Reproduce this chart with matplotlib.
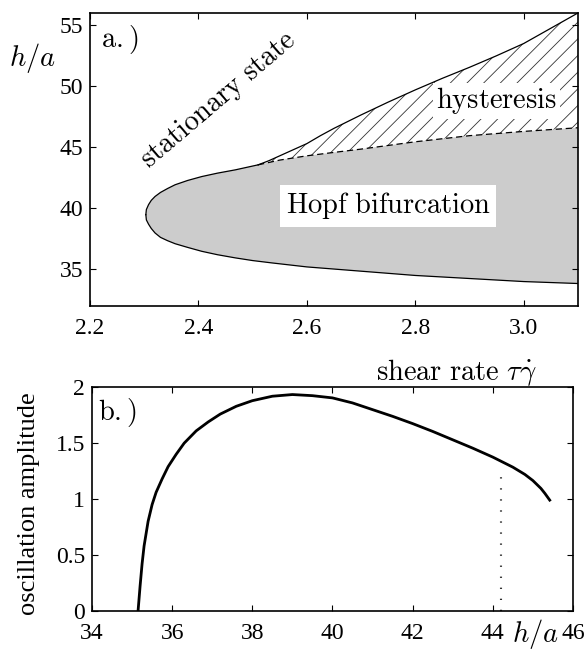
import numpy as np
import matplotlib
matplotlib.use('Agg')
import matplotlib.pyplot as plt

plt.rcParams['mathtext.fontset'] = 'cm'
plt.rcParams['font.family'] = 'Liberation Serif'
plt.rcParams['hatch.linewidth'] = 0.6

# a.) phase diagram, shear rate vs h/a
hopf_lo_x = [3.1, 3.0, 2.9, 2.8, 2.7, 2.6, 2.535, 2.5, 2.468, 2.435, 2.406, 2.38,
             2.357, 2.343, 2.33, 2.32, 2.313, 2.308, 2.304, 2.303]
hopf_lo_y = [33.84, 34.0, 34.25, 34.5, 34.85, 35.2, 35.53, 35.72, 35.94, 36.2, 36.48, 36.8,
             37.1, 37.35, 37.62, 37.98, 38.35, 38.7, 39.05, 39.48]
hopf_up_x = [2.303, 2.304, 2.308, 2.313, 2.32, 2.33, 2.343, 2.357, 2.38, 2.406, 2.435,
             2.468, 2.51]
hopf_up_y = [39.48, 39.9, 40.3, 40.65, 40.97, 41.3, 41.62, 41.93, 42.28, 42.6, 42.88,
             43.15, 43.56]
dash_x = [2.51, 2.55, 2.6, 2.65, 2.7, 2.8, 2.9, 3.0, 3.1]
dash_y = [43.56, 43.95, 44.3, 44.58, 44.85, 45.45, 45.95, 46.3, 46.6]
hyst_x = [2.51, 2.53, 2.55, 2.575, 2.6, 2.625, 2.65, 2.675, 2.7, 2.75, 2.8, 2.85,
          2.9, 2.95, 3.0, 3.05, 3.1]
hyst_y = [43.56, 43.9, 44.3, 44.8, 45.3, 45.95, 46.55, 47.1, 47.65, 48.7, 49.7, 50.65,
          51.55, 52.5, 53.5, 54.75, 56.0]

# b.) oscillation amplitude vs h/a
amp_h = [35.15, 35.2, 35.25, 35.3, 35.4, 35.5, 35.6, 35.75, 35.9, 36.1, 36.3, 36.6,
         36.9, 37.2, 37.6, 38.0, 38.5, 39.0, 39.5, 40.0, 40.5, 41.0, 41.5, 42.0, 42.5,
         43.0, 43.5, 44.0, 44.5, 44.8, 45.0, 45.2, 45.3, 45.36, 45.42]
amp = [0.0, 0.22, 0.42, 0.58, 0.8, 0.95, 1.06, 1.18, 1.29, 1.40, 1.50, 1.61,
       1.69, 1.76, 1.83, 1.88, 1.92, 1.935, 1.925, 1.905, 1.86, 1.80, 1.74, 1.675, 1.605,
       1.53, 1.455, 1.375, 1.285, 1.22, 1.165, 1.095, 1.05, 1.02, 0.99]
h_dot = 44.21
amp_dot = 1.27

fig = plt.figure(figsize=(5.87, 6.52), dpi=100)
ax1 = fig.add_axes([0.1533, 0.5307, 0.8313, 0.4494])
ax2 = fig.add_axes([0.1567, 0.0633, 0.8194, 0.3427])

"""top panel"""
gx = np.concatenate([hopf_lo_x, hopf_up_x, dash_x, [3.1]])
gy = np.concatenate([hopf_lo_y, hopf_up_y, dash_y, [33.84]])
ax1.fill(gx, gy, color='#cccccc', lw=0, zorder=1)
hx = np.concatenate([hyst_x, dash_x[::-1]])
hy = np.concatenate([hyst_y, dash_y[::-1]])
ax1.fill(hx, hy, facecolor='none', edgecolor='#333333', hatch='//', lw=0, zorder=1)
ax1.plot(hopf_lo_x, hopf_lo_y, 'k-', lw=0.9, zorder=3)
ax1.plot(hopf_up_x, hopf_up_y, 'k-', lw=0.9, zorder=3)
ax1.plot(hyst_x, hyst_y, 'k-', lw=0.9, zorder=3)
ax1.plot(dash_x, dash_y, 'k--', lw=0.9, dashes=(5, 3), zorder=3)

ax1.set_xlim(2.2, 3.1)
ax1.set_ylim(32, 56)
ax1.set_xticks([2.2, 2.4, 2.6, 2.8, 3.0])
ax1.set_xticklabels(['2.2', '2.4', '2.6', '2.8', '3.0'])
ax1.set_yticks([35, 40, 45, 50, 55])

ax1.text(2.75, 40.2, r'$\mathrm{Hopf\ bifurcation}$', fontsize=20.5, ha='center', va='center',
         bbox=dict(facecolor='white', edgecolor='none', pad=4), zorder=4)
ax1.text(2.95, 48.8, r'$\mathrm{hysteresis}$', fontsize=20.5, ha='center', va='center',
         bbox=dict(facecolor='white', edgecolor='none', pad=2), zorder=4)
ax1.text(2.437, 48.9, r'$\mathrm{stationary\ state}$', fontsize=20.5, ha='center', va='center',
         rotation=40.5, rotation_mode='anchor', zorder=4)
ax1.text(0.061, 0.908, r'$\mathrm{a.)}$', transform=ax1.transAxes, fontsize=20.5,
         ha='center', va='center')
fig.text(0.056, 0.911, r'$h/a$', fontsize=20.5, ha='center', va='center')
fig.text(0.915, 0.428, r'$\mathrm{shear\ rate}\ \tau\dot{\gamma}$', fontsize=20.5,
         ha='right', va='center')

"""bottom panel"""
ax2.plot(amp_h, amp, 'k-', lw=2)
ax2.plot([h_dot, h_dot], [0, amp_dot], color='#222222', lw=1.5, linestyle=(0, (0.6, 4.7)))
ax2.set_xlim(34, 46)
ax2.set_ylim(0, 2)
ax2.set_xticks([34, 36, 38, 40, 42, 44, 46])
ax2.set_yticks([0, 0.5, 1, 1.5, 2])
ax2.set_yticklabels(['0', '0.5', '1', '1.5', '2'])
ax2.text(0.052, 0.888, r'$\mathrm{b.)}$', transform=ax2.transAxes, fontsize=20.5,
         ha='center', va='center')
fig.text(0.05, 0.227, 'oscillation amplitude', fontsize=19, rotation=90,
         ha='center', va='center')
fig.text(0.912, 0.027, r'$h/a$', fontsize=20.5, ha='center', va='center')

for ax in (ax1, ax2):
    ax.tick_params(direction='in', top=True, right=True, length=4, width=0.8,
                   labelsize=17)
    ax.tick_params(axis='x', pad=9)
    ax.tick_params(axis='y', pad=5)
    for s in ax.spines.values():
        s.set_linewidth(1.2)

fig.savefig('out.png', dpi=100)
